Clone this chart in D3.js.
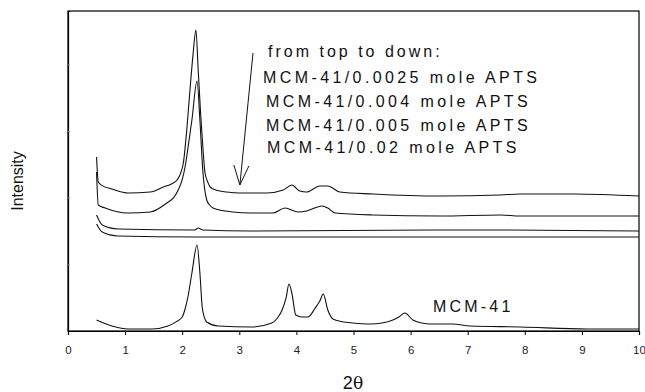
<!DOCTYPE html>
<html>
<head>
<meta charset="utf-8">
<script src="https://cdn.jsdelivr.net/npm/d3@7"></script>
<style>
  body { margin: 0; background: #fff; }
  svg { display: block; font-family: "Liberation Sans", Arial, sans-serif; }
</style>
</head>
<body>
<div id="graph"></div>
<script>
// XRD patterns, low angle region (2 theta vs intensity, arbitrary units)
const apts0025 = [[0.5,2610],[0.53,2235],[0.6,2180],[0.77,2130],[1.05,2070],[1.44,2085],[1.67,2160],[1.82,2210],[1.91,2265],[1.97,2360],[2.02,2520],[2.08,3015],[2.14,3660],[2.19,4150],[2.24,4515],[2.28,3915],[2.32,3300],[2.35,2910],[2.40,2370],[2.45,2230],[2.49,2160],[2.6,2110],[2.78,2085],[3.01,2070],[3.48,2070],[3.77,2115],[3.92,2190],[4.06,2100],[4.18,2085],[4.41,2175],[4.55,2175],[4.76,2085],[5.34,2055],[6.51,2025],[7.57,2040],[7.92,2055],[8.85,2055],[10,2025]];
const apts004 = [[0.5,2385],[0.53,1890],[0.65,1845],[1.05,1770],[1.44,1785],[1.73,1920],[1.85,2000],[1.93,2115],[2.0,2270],[2.05,2460],[2.11,2800],[2.17,3165],[2.26,3750],[2.31,3165],[2.36,2415],[2.43,1965],[2.48,1890],[2.54,1845],[2.89,1785],[3.19,1770],[3.59,1770],[3.8,1845],[4.03,1785],[4.18,1800],[4.45,1875],[4.55,1845],[4.68,1770],[5.34,1740],[6.51,1725],[7.57,1740],[7.92,1725],[10,1725]];
const apts005 = [[0.5,1740],[0.6,1590],[0.88,1530],[2.22,1515],[2.28,1545],[2.36,1515],[3.19,1500],[6.51,1515],[7.57,1515],[10,1500]];
const apts02 = [[0.5,1605],[0.6,1485],[0.88,1425],[2.22,1410],[3.19,1410],[6.51,1410],[10,1410]];
const mcm41 = [[0.5,165],[0.77,75],[1.05,30],[1.47,30],[1.75,75],[1.9,140],[2.0,210],[2.06,360],[2.1,510],[2.17,870],[2.26,1290],[2.31,870],[2.35,360],[2.39,200],[2.43,135],[2.63,75],[3.22,60],[3.57,120],[3.68,210],[3.75,315],[3.82,500],[3.87,705],[3.92,570],[3.99,240],[4.1,210],[4.2,210],[4.33,345],[4.41,450],[4.47,555],[4.55,315],[4.64,180],[4.8,140],[4.99,120],[5.29,105],[5.5,120],[5.69,165],[5.8,215],[5.9,270],[6.04,165],[6.2,120],[6.34,105],[6.74,105],[7.04,75],[7.92,60],[9.09,30],[10,30]];

const xTicks = [0, 1, 2, 3, 4, 5, 6, 7, 8, 9, 10];
const yTicks = [1000, 2000, 3000, 4000];
const legendLines = ["from top to down:", "MCM-41/0.0025 mole APTS", "MCM-41/0.004 mole APTS", "MCM-41/0.005 mole APTS", "MCM-41/0.02 mole APTS"];
const arrowFrom = [3.24, 4170];
const arrowTo = [3.01, 2190];

const margin = {top: 11, right: 6, bottom: 61, left: 68};
const W = 645, H = 392;
const width = W - margin.left - margin.right;
const height = H - margin.top - margin.bottom;

const x = d3.scaleLinear().domain([0, 10]).range([0, width]);
const y = d3.scaleLinear().domain([0, 4800]).range([height, 0]);

const svg = d3.select("#graph")
    .append("svg")
        .attr("width", W)
        .attr("height", H)
    .append("g")
        .attr("transform", `translate(${margin.left}, ${margin.top})`);

// frame
svg.append("rect")
    .attr("width", width).attr("height", height)
    .attr("fill", "none").attr("stroke", "#000").attr("stroke-width", 1.2);

const xAxis = svg.append("g")
    .attr("transform", `translate(0, ${height})`)
    .call(d3.axisBottom(x).tickValues(xTicks).tickSize(4).tickPadding(11).tickFormat(d3.format("d")));
xAxis.select(".domain").attr("stroke-width", 1.2);
xAxis.selectAll("text").attr("font-size", 11.5).attr("fill", "#222");

const yAxis = svg.append("g")
    .call(d3.axisLeft(y).tickValues(yTicks).tickSize(-2).tickFormat(""));
yAxis.select(".domain").attr("stroke-width", 1.2);
yAxis.selectAll("line").attr("stroke", "#888");

const line = d3.line()
    .curve(d3.curveMonotoneX)
    .x(d => x(d[0]))
    .y(d => y(d[1]));

[apts0025, apts004, apts005, apts02, mcm41].forEach(s => {
    svg.append("path")
        .datum(s)
        .attr("fill", "none")
        .attr("stroke", "#111")
        .attr("stroke-width", 1.1)
        .attr("stroke-linejoin", "round")
        .attr("d", line);
});

// arrow
const tipX = x(arrowTo[0]), tipY = y(arrowTo[1]);
svg.append("line")
    .attr("x1", x(arrowFrom[0])).attr("y1", y(arrowFrom[1]))
    .attr("x2", tipX).attr("y2", tipY)
    .attr("stroke", "#111").attr("stroke-width", 1);
svg.append("path")
    .attr("d", `M${tipX - 6},${tipY - 20}L${tipX},${tipY}L${tipX + 9},${tipY - 19}`)
    .attr("fill", "none").attr("stroke", "#111").attr("stroke-width", 1);

// legend text
const legendPos = [[200, 46], [195, 72], [198, 96], [198, 120], [199, 142]];
svg.selectAll(".leg")
    .data(legendLines)
    .join("text")
        .attr("x", (d, i) => legendPos[i][0])
        .attr("y", (d, i) => legendPos[i][1])
        .attr("font-size", 16)
        .attr("letter-spacing", (d, i) => i === 0 ? "3px" : "3.4px")
        .attr("fill", "#111")
        .text(d => d);

svg.append("text")
    .attr("x", 365).attr("y", 301)
    .attr("font-size", 16)
    .attr("letter-spacing", "3.2px")
    .attr("fill", "#111")
    .text("MCM-41");

// axis titles
const xt = d3.select("svg").append("text")
    .attr("x", 353).attr("y", 389)
    .attr("text-anchor", "middle")
    .attr("font-size", 18)
    .attr("fill", "#111");
xt.append("tspan").text("2");
xt.append("tspan").attr("font-family", "'DejaVu Serif', serif").attr("font-size", 17).text("θ");

d3.select("svg").append("text")
    .attr("transform", "translate(23, 181) rotate(-90)")
    .attr("text-anchor", "middle")
    .attr("font-size", 16)
    .attr("fill", "#111")
    .text("Intensity");
</script>
</body>
</html>
